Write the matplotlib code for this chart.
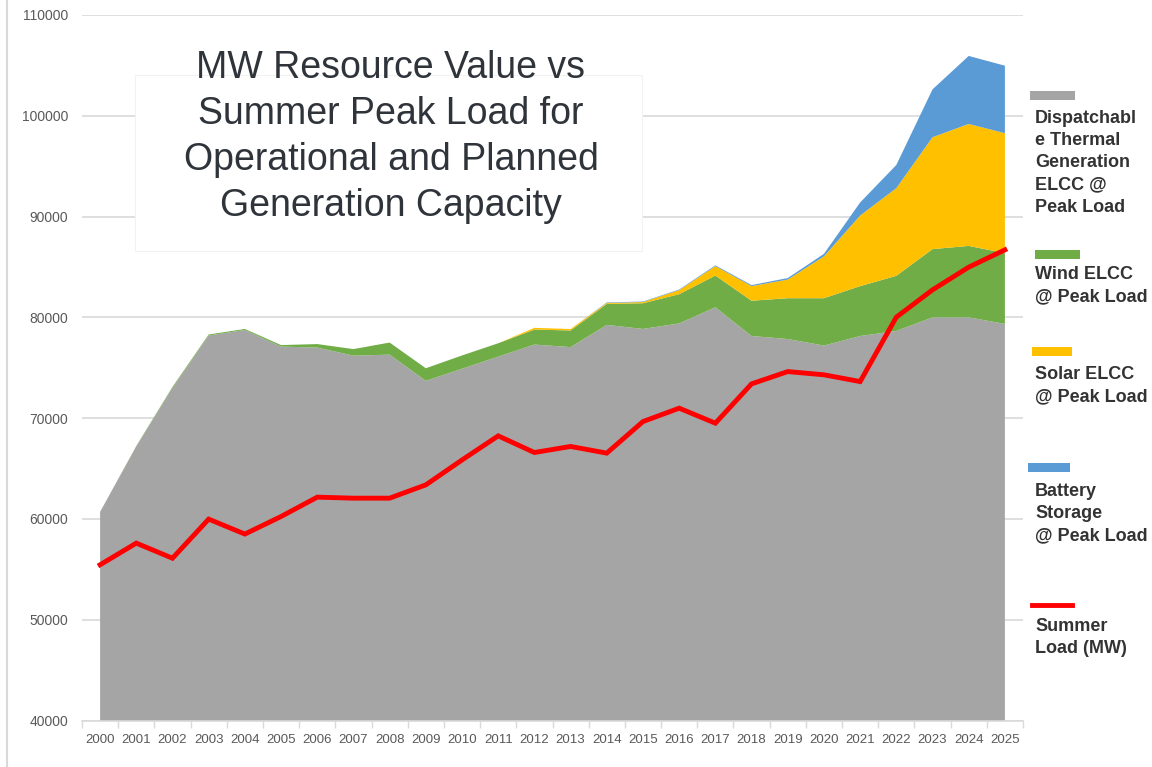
import numpy as np
import matplotlib
matplotlib.use("Agg")
import matplotlib.pyplot as plt
from matplotlib.patches import Rectangle
from matplotlib.lines import Line2D

# data (MW)
years = list(range(2000, 2026))
thermal = [60700, 67200, 73000, 78200, 78750, 77100, 77000, 76200, 76300, 73700,
           74900, 76100, 77300, 77050, 79250, 78850, 79400, 81000, 78150, 77850,
           77200, 78150, 78650, 80000, 80000, 79350]
wind = [0, 40, 100, 100, 100, 150, 350, 650, 1200, 1250,
        1320, 1330, 1490, 1650, 2080, 2550, 2900, 3150, 3500, 4050,
        4700, 4950, 5470, 6770, 7090, 7020]
solar = [0, 0, 0, 0, 0, 0, 0, 0, 0, 0,
         0, 0, 170, 140, 100, 120, 400, 930, 1450, 1850,
         4150, 7000, 8700, 11100, 12100, 11900]
battery = [0, 0, 0, 0, 0, 0, 0, 0, 0, 0,
           0, 0, 0, 0, 50, 50, 60, 80, 100, 150,
           250, 1300, 2300, 4750, 6750, 6700]
summer_load = [55450, 57600, 56100, 59980, 58500, 60240, 62160, 62060, 62060, 63380,
               65850, 68240, 66590, 67190, 66530, 69660, 70990, 69500, 73400, 74620,
               74300, 73630, 80020, 82730, 84980, 86700]

labels = ["Dispatchabl\ne Thermal\nGeneration\nELCC @\nPeak Load",
          "Wind ELCC\n@ Peak Load",
          "Solar ELCC\n@ Peak Load",
          "Battery\nStorage\n@ Peak Load",
          "Summer\nLoad (MW)"]
colors = ["#A5A5A5", "#70AD47", "#FFC000", "#5B9BD5", "#FF0000"]

title = "MW Resource Value vs\nSummer Peak Load for\nOperational and Planned\nGeneration Capacity"

W, H = 1152, 767
fig = plt.figure(figsize=(W / 100, H / 100), dpi=100)
ax = fig.add_axes([82 / W, (H - 720.5) / H, (1023 - 82) / W, 705.5 / H])

x = np.arange(len(years))
ax.stackplot(x, thermal, wind, solar, battery, colors=colors[:4],
             linewidth=0, zorder=2)
ax.plot(x, summer_load, color=colors[4], lw=3.5, solid_joinstyle="miter", zorder=4)

ax.set_xlim(-0.5, len(years) - 0.5)
ax.set_ylim(40000, 110000)
ax.set_yticks(np.arange(40000, 110001, 10000))
ax.set_yticklabels([str(v) for v in range(40000, 110001, 10000)],
                   fontsize=10, color="#595959", family=["Liberation Sans", "DejaVu Sans"])
ax.tick_params(axis="y", length=0, pad=10)
ax.set_xticks(x)
ax.set_xticklabels([str(y) for y in years], fontsize=9.5, color="#595959",
                   family=["Liberation Sans Narrow", "Liberation Sans", "DejaVu Sans"])
ax.tick_params(axis="x", which="major", length=0, pad=10)
ax.set_xticks(np.arange(-0.5, len(years)), minor=True)
ax.tick_params(axis="x", which="minor", length=5, color="#D9D9D9", width=1)

ax.grid(axis="y", color="#D9D9D9", lw=1.2, zorder=0)
ax.set_axisbelow(True)
for s in ["top", "right", "left"]:
    ax.spines[s].set_visible(False)
ax.spines["bottom"].set_color("#D9D9D9")
ax.spines["bottom"].set_linewidth(1.2)
ax.spines["bottom"].set_zorder(5)

# white title box sitting over the gridlines
fig.patches.append(Rectangle((135 / W, (H - 251) / H), (642 - 135) / W, (251 - 75) / H,
                             transform=fig.transFigure, facecolor="white",
                             edgecolor="#F2F2F2", lw=0.8, zorder=3))
fig.text(391 / W, (H - 137) / H, title, ha="center", va="center",
         fontsize=27, color="#2F343B", linespacing=1.36,
         family=["Liberation Sans", "DejaVu Sans"], zorder=4)

# chart-area left border
fig.add_artist(Line2D([7 / W, 7 / W], [0, 1], color="#D9D9D9", lw=1.5))

# legend, drawn by hand to follow the reference's loose layout
patch_pos = [(1030, 95, 45), (1035, 254, 45), (1032, 351, 40), (1028, 467, 42), (1032, 605, 40)]
text_top = [110, 266, 366, 483, 618]
for i, (lab, col) in enumerate(zip(labels, colors)):
    px, py, pw = patch_pos[i]
    if i == 4:
        fig.add_artist(Line2D([px / W, (px + pw) / W], [(H - py) / H] * 2,
                              color=col, lw=3.5))
    else:
        fig.patches.append(Rectangle((px / W, (H - py - 4.5) / H), pw / W, 9 / H,
                                     transform=fig.transFigure, facecolor=col,
                                     edgecolor="none"))
    fig.text(1035 / W, (H - text_top[i]) / H, lab, ha="left", va="top",
             fontsize=13, fontweight="bold", color="#333333", linespacing=1.4,
             family=["Liberation Sans", "DejaVu Sans"])

fig.savefig("out.png", dpi=100)
